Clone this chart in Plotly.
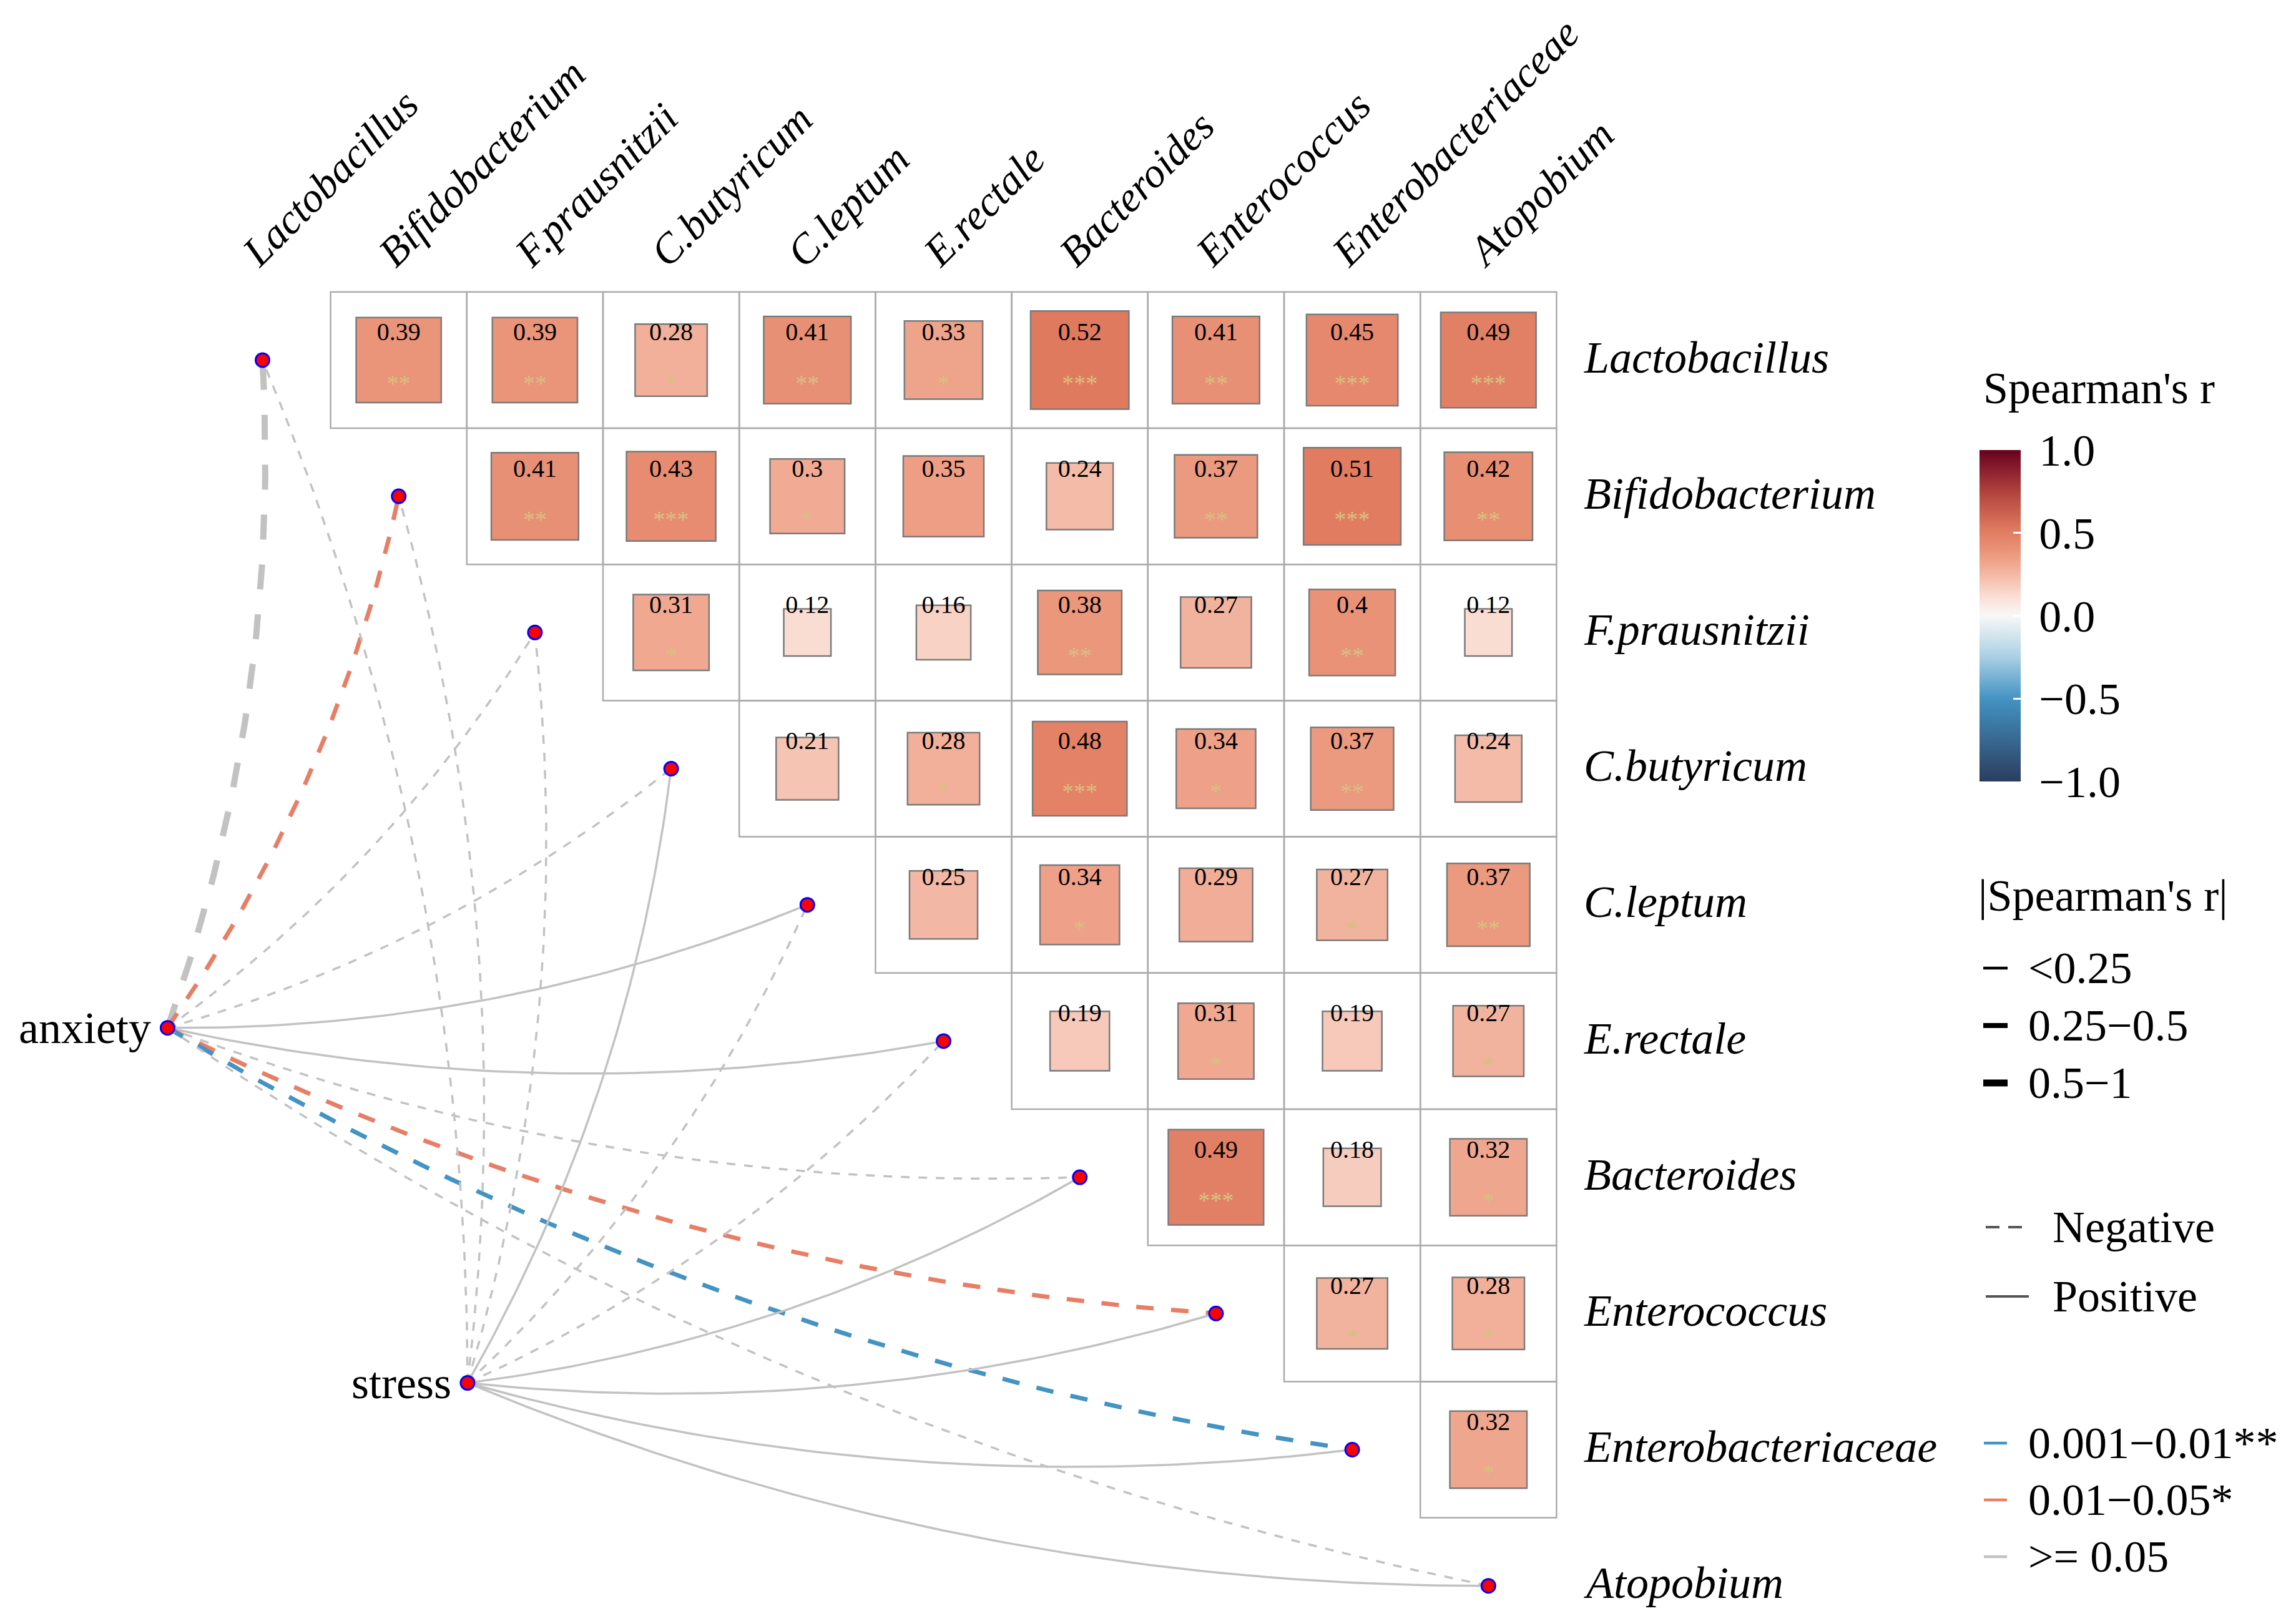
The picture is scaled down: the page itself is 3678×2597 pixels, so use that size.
import numpy as np
import plotly.graph_objects as go
from plotly.colors import sample_colorscale

# ---------------- data ----------------
taxa = ["Lactobacillus", "Bifidobacterium", "F.prausnitzii", "C.butyricum", "C.leptum",
        "E.rectale", "Bacteroides", "Enterococcus", "Enterobacteriaceae", "Atopobium"]

# upper triangle (row i, columns i+1 .. 9)
r_upper = [
    [0.39, 0.39, 0.28, 0.41, 0.33, 0.52, 0.41, 0.45, 0.49],
    [0.41, 0.43, 0.30, 0.35, 0.24, 0.37, 0.51, 0.42],
    [0.31, 0.12, 0.16, 0.38, 0.27, 0.40, 0.12],
    [0.21, 0.28, 0.48, 0.34, 0.37, 0.24],
    [0.25, 0.34, 0.29, 0.27, 0.37],
    [0.19, 0.31, 0.19, 0.27],
    [0.49, 0.18, 0.32],
    [0.27, 0.28],
    [0.32],
]
stars_upper = [
    ["**", "**", "*", "**", "*", "***", "**", "***", "***"],
    ["**", "***", "*", "", "", "**", "***", "**"],
    ["*", "", "", "**", "", "**", ""],
    ["", "*", "***", "*", "**", ""],
    ["", "*", "", "*", "**"],
    ["", "*", "", "*"],
    ["***", "", "*"],
    ["*", "*"],
    ["*"],
]

env_names = ["anxiety", "stress"]
env_sign = [
    ["neg", "neg", "neg", "neg", "pos", "pos", "neg", "neg", "neg", "neg"],
    ["neg", "neg", "neg", "pos", "neg", "neg", "pos", "pos", "pos", "pos"],
]
env_rclass = [
    ["0.5-1", "0.25-0.5", "<0.25", "<0.25", "<0.25", "<0.25", "<0.25", "0.25-0.5", "0.25-0.5", "<0.25"],
    ["<0.25"] * 10,
]
env_pclass = [
    [">=0.05", "0.01-0.05", ">=0.05", ">=0.05", ">=0.05", ">=0.05", ">=0.05", "0.01-0.05", "0.001-0.01", ">=0.05"],
    [">=0.05"] * 10,
]

rclass_labels = ["<0.25", "0.25\u22120.5", "0.5\u22121"]
rclass_keys = ["<0.25", "0.25-0.5", "0.5-1"]
pclass_labels = ["0.001\u22120.01**", "0.01\u22120.05*", ">= 0.05"]
pclass_keys = ["0.001-0.01", "0.01-0.05", ">=0.05"]
cbar_ticks = [-1.0, -0.5, 0.0, 0.5, 1.0]
cbar_ticktext = ["\u22121.0", "\u22120.5", "0.0", "0.5", "1.0"]

# ---------------- styles / layout ----------------
W, H = 3678, 2597
CELL = 218.2
X0_PX, Y0_PX = 420.5, 576.9
FONT = "Liberation Serif"

def ux(px):
    return (px - X0_PX) / CELL

def uy(py):
    return (py - Y0_PX) / CELL

ENV_POS = [(-0.697, 4.903), (1.505, 7.51)]

CS = [[0.0, '#2B3D5E'], [0.25, '#4393C3'], [0.375, '#A9CFE3'], [0.5, '#F8F8F8'],
      [0.56, '#F9DDD3'], [0.64, '#F2B09A'], [0.695, '#EA9479'], [0.76, '#E07A5F'],
      [0.875, '#B0423E'], [1.0, '#67001F']]

WIDTH = {"<0.25": 3.5, "0.25-0.5": 7.0, "0.5-1": 10.0}
PCOL = {"0.001-0.01": "#4393C3", "0.01-0.05": "#E67F66", ">=0.05": "#C2C2C2"}

fig = go.Figure()
shapes = []
annotations = []

# grid and boxes
cx, cy, vals, vtxt, stxt = [], [], [], [], []
for i, row in enumerate(r_upper):
    for k, r in enumerate(row):
        c = i + 1 + k
        shapes.append(dict(type="rect", xref="x", yref="y", x0=c - 0.5, x1=c + 0.5,
                           y0=i - 0.5, y1=i + 0.5, line=dict(color="#ABABAB", width=2.5),
                           fillcolor="rgba(0,0,0,0)", layer="below"))
for i, row in enumerate(r_upper):
    for k, r in enumerate(row):
        c = i + 1 + k
        half = np.sqrt(abs(r)) / 2
        col = sample_colorscale(CS, [(r + 1) / 2])[0]
        shapes.append(dict(type="rect", xref="x", yref="y", x0=c - half, x1=c + half,
                           y0=i - half, y1=i + half, line=dict(color="#7A7A7A", width=2.5),
                           fillcolor=col, layer="below"))
        cx.append(c); cy.append(i); vals.append(r)
        vtxt.append(f"{r:g}")
        stxt.append(stars_upper[i][k])

# colorbar carrier
fig.add_trace(go.Scatter(
    x=cx, y=cy, mode="markers", hoverinfo="skip",
    marker=dict(size=1, opacity=0, color=vals, colorscale=CS, cmin=-1, cmax=1, showscale=True,
                colorbar=dict(
                    x=3171 / W, xanchor="left", xpad=0, y=1 - 986.5 / H, yanchor="middle", ypad=0,
                    len=531, lenmode="pixels", thickness=66, thicknessmode="pixels",
                    outlinewidth=0, tickvals=cbar_ticks,
                    ticktext=["\u2009" + s for s in cbar_ticktext],
                    ticks="inside", ticklen=12, tickwidth=3, tickcolor="white",
                    tickfont=dict(family=FONT, size=72, color="black"))),
    showlegend=False))

# value labels and stars
fig.add_trace(go.Scatter(x=cx, y=[v - 0.19 for v in cy], mode="text", text=vtxt,
                         textfont=dict(family=FONT, size=40, color="black"),
                         hoverinfo="skip", showlegend=False))
fig.add_trace(go.Scatter(x=cx, y=[v + 0.185 for v in cy], mode="text", text=stxt,
                         textfont=dict(family=FONT, size=38, color="#D8C080"),
                         hoverinfo="skip", showlegend=False))

# edges (curved)
t = np.linspace(0, 1, 60)
for e, (ex, ey) in enumerate(ENV_POS):
    for j in range(len(taxa)):
        tx, ty = float(j), float(j)
        dx, dy = tx - ex, ty - ey
        L = np.hypot(dx, dy)
        nx, ny = -dy / L, dx / L
        mx, my = (ex + tx) / 2 + nx * 0.1 * L, (ey + ty) / 2 + ny * 0.1 * L
        bx = (1 - t) ** 2 * ex + 2 * (1 - t) * t * mx + t ** 2 * tx
        by = (1 - t) ** 2 * ey + 2 * (1 - t) * t * my + t ** 2 * ty
        w = WIDTH[env_rclass[e][j]]
        dash = "solid" if env_sign[e][j] == "pos" else f"{4 * w:.0f}px,{4 * w:.0f}px"
        fig.add_trace(go.Scatter(x=bx, y=by, mode="lines", hoverinfo="skip", showlegend=False,
                                 line=dict(color=PCOL[env_pclass[e][j]], width=w, dash=dash)))

# nodes
node_x = list(range(len(taxa))) + [p[0] for p in ENV_POS]
node_y = list(range(len(taxa))) + [p[1] for p in ENV_POS]
fig.add_trace(go.Scatter(x=node_x, y=node_y, mode="markers", hoverinfo="skip", showlegend=False,
                         marker=dict(size=22, color="red", line=dict(color="blue", width=3))))

# env labels
for name, (ex, ey) in zip(env_names, ENV_POS):
    annotations.append(dict(x=ex, y=ey, xref="x", yref="y", text=name, showarrow=False,
                            xanchor="right", yanchor="middle", xshift=-24,
                            font=dict(family=FONT, size=72, color="black")))

# right row labels
for i, name in enumerate(taxa):
    annotations.append(dict(x=9.69, y=i - 0.02, xref="x", yref="y", text=name, showarrow=False,
                            xanchor="left", yanchor="middle",
                            font=dict(family=FONT, size=72, color="black", style="italic")))
# top column labels
for j, name in enumerate(taxa):
    annotations.append(dict(x=j - 0.23, y=-0.61, xref="x", yref="y", text=name, showarrow=False,
                            xanchor="left", yanchor="bottom", textangle=-45,
                            font=dict(family=FONT, size=67, color="black", style="italic")))

# legends (colour title, |r|, sign, p)
DX, DY = -15, -10

def leg_text(px, py, text):
    annotations.append(dict(x=ux(px + DX), y=uy(py + DY), xref="x", yref="y", text=text,
                            showarrow=False, xanchor="left", yanchor="middle",
                            font=dict(family=FONT, size=72, color="black")))

def leg_line(px0, px1, py, color, width, dash="solid"):
    shapes.append(dict(type="line", xref="x", yref="y", x0=ux(px0), x1=ux(px1),
                       y0=uy(py + DY), y1=uy(py + DY),
                       line=dict(color=color, width=width, dash=dash)))

leg_text(3190, 632, "Spearman's r")
leg_text(3182, 1445, "|Spearman's r|")
for k, (lab, key) in enumerate(zip(rclass_labels, rclass_keys)):
    py = 1561 + 92 * k
    leg_line(3177, 3216, py, "black", WIDTH[key] + 1)
    leg_text(3262, py, lab)

leg_line(3181, 3250, 1976, "#555555", 4, "22px,14px")
leg_text(3301, 1976, "Negative")
leg_line(3181, 3250, 2087, "#555555", 4)
leg_text(3301, 2087, "Positive")

for k, (lab, key) in enumerate(zip(pclass_labels, pclass_keys)):
    py = 2322 + 91 * k
    leg_line(3178, 3215, py, PCOL[key], 4.5)
    leg_text(3262, py, lab)

fig.update_layout(
    width=W, height=H, margin=dict(l=0, r=0, t=0, b=0),
    paper_bgcolor="white", plot_bgcolor="white", showlegend=False,
    xaxis=dict(range=[ux(0), ux(W)], visible=False, fixedrange=True),
    yaxis=dict(range=[uy(H), uy(0)], visible=False, fixedrange=True),
    shapes=shapes, annotations=annotations,
)

fig.write_html("out.html", config={"displayModeBar": False},
               post_script="document.body.style.margin='0px';")
